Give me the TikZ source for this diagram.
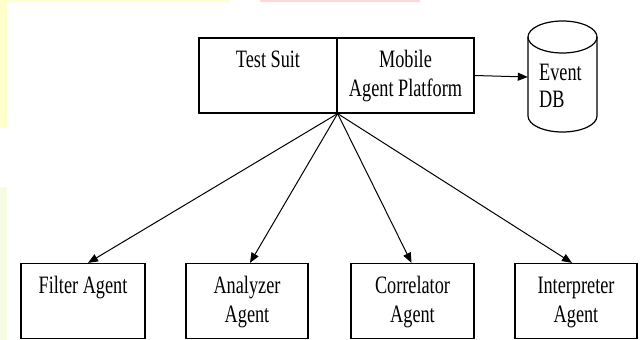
\documentclass[tikz,border=0pt]{standalone}
\usepackage{fontspec}
\newfontfamily\tnr[FakeStretch=0.73]{Liberation Serif}
\usetikzlibrary{arrows.meta,calc}
\definecolor{paleyellow}{HTML}{FFFFCC}
\definecolor{palepink}{HTML}{FFD6D6}
\definecolor{palegreen}{HTML}{F6FBE4}
\begin{document}
\begin{tikzpicture}[x=1pt,y=-1pt,
  box/.style={draw,line width=1.2pt,rectangle,inner sep=0pt},
  lbl/.style={font=\tnr\fontsize{25}{29}\selectfont,align=center,anchor=base,inner sep=0pt},
  conn/.style={line width=1pt,-{Triangle[length=10pt,width=8pt]}}]
  \useasboundingbox (0,0) rectangle (643,340);
  \fill[white] (0,0) rectangle (643,340);
  % faint page decorations along the edges
  \fill[paleyellow] (0,0) rectangle (7,127);
  \fill[paleyellow] (0,0) rectangle (230,1.5);
  \fill[palepink] (260,0) rectangle (420,1.5);
  \fill[palegreen] (0,187) rectangle (7,340);

  % platform box, split in two halves
  \node[box,minimum width=138pt,minimum height=75pt] (ts) at (268,75.5) {};
  \node[box,minimum width=137pt,minimum height=75pt] (map) at (405.5,75.5) {};
  % the base anchor of a two-line label sits on its last line
  \node[lbl] (tstxt) at ([yshift=-30pt]ts.north) {Test Suit};
  \node[lbl] (maptxt) at ([yshift=-59pt]map.north) {Mobile\\Agent Platform};

  % event database cylinder
  \node[inner sep=0pt,minimum width=69pt,minimum height=110pt] (db) at (562.5,77) {};
  \draw[line width=1.2pt] (528,37) arc[start angle=180,end angle=-180,x radius=34.5pt,y radius=16pt];
  \draw[line width=1.2pt] (528,37) -- (528,116)
    arc[start angle=180,end angle=360,x radius=34.5pt,y radius=16pt] -- (597,37);
  \node[font=\tnr\fontsize{25}{27}\selectfont,align=left,anchor=base west,inner sep=0pt]
    (dbtxt) at (539,107) {Event\\DB};

  % agent boxes
  \node[box,minimum width=124pt,minimum height=75pt] (fa) at (83,301) {};
  \node[box,minimum width=122pt,minimum height=75pt] (aa) at (247,301) {};
  \node[box,minimum width=123pt,minimum height=75pt] (ca) at (412.5,301) {};
  \node[box,minimum width=122pt,minimum height=75pt] (ia) at (576,301) {};
  \node[lbl] (fatxt) at ([yshift=-31pt]fa.north) {Filter Agent};
  \node[lbl] (aatxt) at ([yshift=-60pt]aa.north) {Analyzer\\Agent};
  \node[lbl] (catxt) at ([yshift=-60pt]ca.north) {Correlator\\Agent};
  \node[lbl] (iatxt) at ([yshift=-60pt]ia.north) {Interpreter\\Agent};

  % connectors
  \draw[conn] (map.east) -- (db.west);
  \draw[conn] (ts.south east) -- ([xshift=5pt]fa.north);
  \draw[conn] (ts.south east) -- ([xshift=3pt]aa.north);
  \draw[conn] (ts.south east) -- ([xshift=-1pt]ca.north);
  \draw[conn] (ts.south east) -- ([xshift=-4pt]ia.north);
\end{tikzpicture}
\end{document}
